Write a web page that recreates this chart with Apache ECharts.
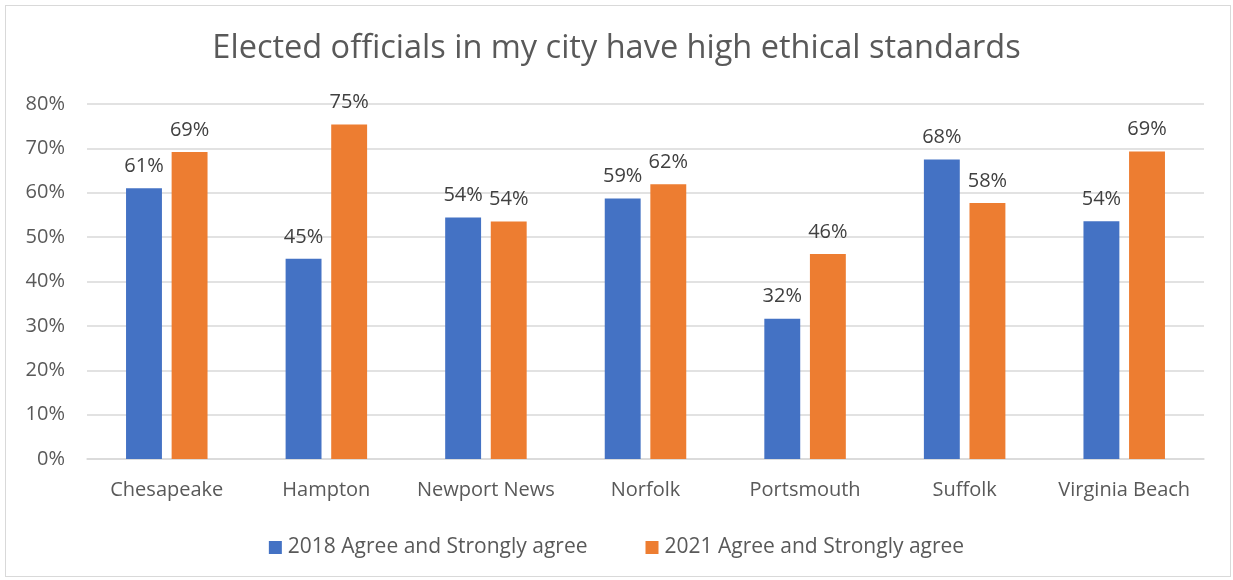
<!DOCTYPE html>
<html>
<head>
<meta charset="utf-8">
<script src="https://cdn.jsdelivr.net/npm/echarts@6/dist/echarts.min.js"></script>
<style>
  html, body { margin: 0; padding: 0; background: #fff; }
  #frame {
    position: absolute; left: 5px; top: 5px;
    width: 1224px; height: 570px;
    border: 1px solid #d9d9d9;
  }
  #chart { position: absolute; left: 0; top: 0; width: 1233px; height: 580px; }
</style>
</head>
<body>
<div id="frame"></div>
<div id="chart"></div>
<script>
const cities = ['Chesapeake', 'Hampton', 'Newport News', 'Norfolk', 'Portsmouth', 'Suffolk', 'Virginia Beach']
const agree2018 = [61.0, 45.1, 54.4, 58.7, 31.6, 67.5, 53.6]
const agree2021 = [69.2, 75.4, 53.5, 61.9, 46.2, 57.7, 69.3]
const seriesNames = ['2018 Agree and Strongly agree', '2021 Agree and Strongly agree']

const font = '"Open Sans", "Noto Sans", sans-serif'
const chart = echarts.init(document.getElementById('chart'))

const barLabel = {
  show: true,
  position: 'top',
  distance: 12,
  color: '#404040',
  fontSize: 20,
  fontFamily: font,
  formatter: p => Math.round(p.value) + '%'
}

chart.setOption({
  animation: false,
  title: {
    text: 'Elected officials in my city have high ethical standards',
    left: 'center',
    top: 27,
    textStyle: { color: '#595959', fontSize: 32.5, fontWeight: 'normal', fontFamily: font }
  },
  legend: {
    top: 532,
    left: 'center',
    itemWidth: 13,
    itemHeight: 13,
    itemGap: 58,
    icon: 'rect',
    textStyle: { color: '#595959', fontSize: 21, fontFamily: font, padding: [0, 0, 0, 1] }
  },
  grid: { left: 87, right: 29, top: 104, bottom: 121 },
  xAxis: {
    type: 'category',
    data: cities,
    axisTick: { show: false },
    axisLine: { lineStyle: { color: '#d9d9d9', width: 1.5 } },
    axisLabel: { color: '#595959', fontSize: 20, fontFamily: font, margin: 21, interval: 0 }
  },
  yAxis: {
    type: 'value',
    min: 0,
    max: 80,
    interval: 10,
    axisLabel: { color: '#595959', fontSize: 20, fontFamily: font, formatter: '{value}%', margin: 22 },
    splitLine: { lineStyle: { color: '#d9d9d9', width: 1.5 } }
  },
  series: [
    {
      name: seriesNames[0],
      type: 'bar',
      data: agree2018,
      barWidth: '22.5%',
      barGap: '27%',
      itemStyle: { color: '#4472c4' },
      label: barLabel
    },
    {
      name: seriesNames[1],
      type: 'bar',
      data: agree2021,
      barWidth: '22.5%',
      itemStyle: { color: '#ed7d31' },
      label: barLabel
    }
  ]
})

window.addEventListener('resize', () => chart.resize())
</script>
</body>
</html>
